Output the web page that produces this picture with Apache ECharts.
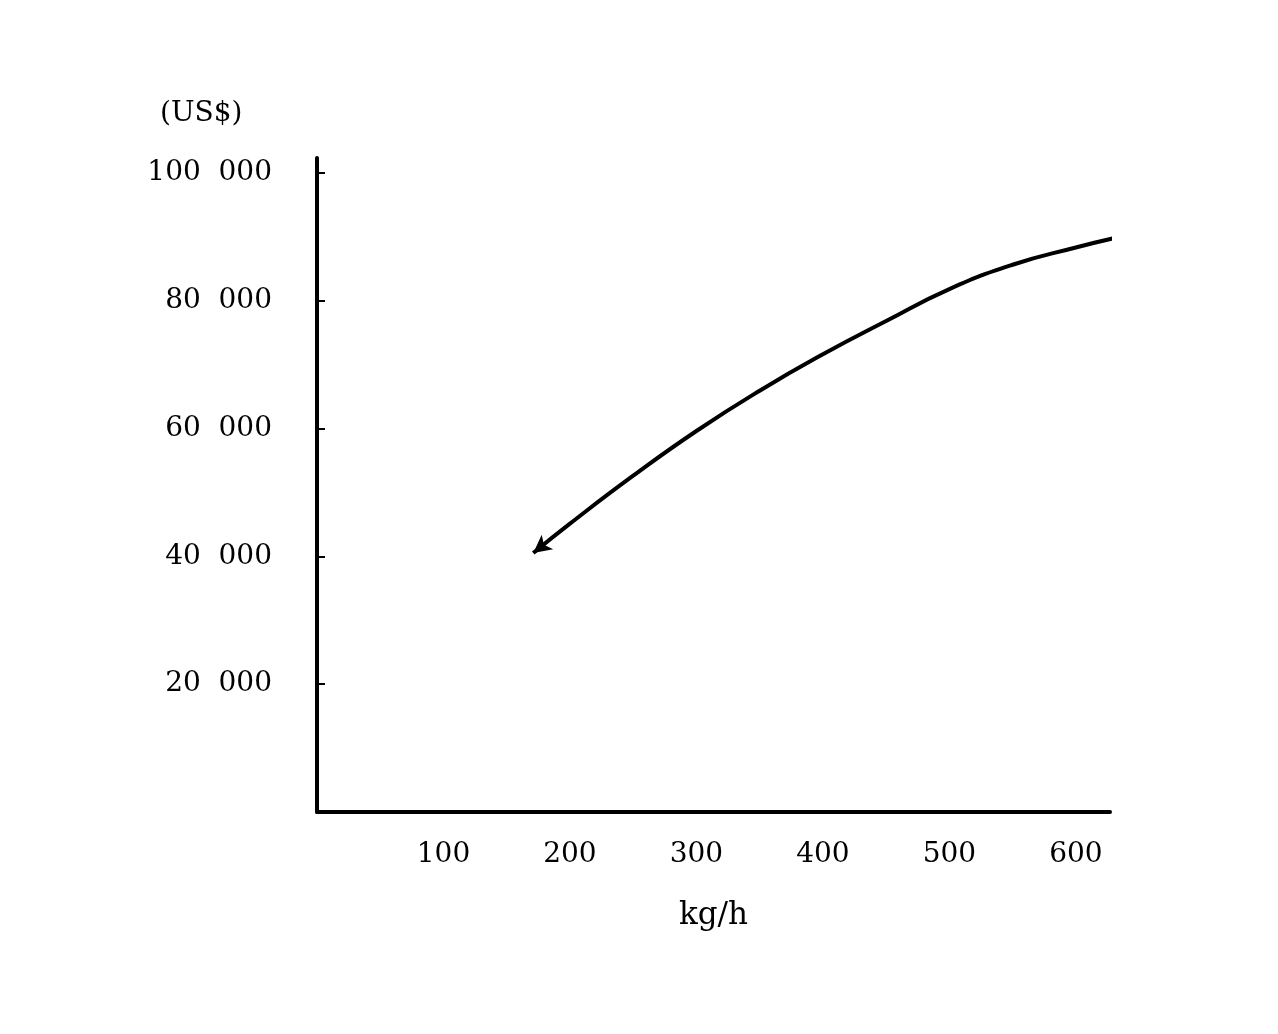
<!DOCTYPE html>
<html>
<head>
<meta charset="utf-8">
<script src="https://cdn.jsdelivr.net/npm/echarts@6/dist/echarts.min.js"></script>
<style>
html,body{margin:0;padding:0;background:#fff;}
#chart{width:1278px;height:1034px;}
</style>
</head>
<body>
<div id="chart"></div>
<script>
// Data (capacity kg/h vs cost US$)
var capacity = [171, 200, 250, 300, 350, 400, 450, 500, 550, 600, 629];
var cost = [40500, 45100, 52600, 59600, 65900, 71600, 76800, 81800, 85600, 88300, 89700];
var xTicks = [100, 200, 300, 400, 500, 600];
var yTicks = [20000, 40000, 60000, 80000, 100000];
var yUnit = '(US$)';
var xUnit = 'kg/h';

var font = '"DejaVu Serif", "Liberation Serif", serif';
var seriesData = capacity.map(function (c, i) {
  var item = { value: [c, cost[i]] };
  if (i === 0) {
    item.symbol = 'arrow';
    item.symbolSize = [14, 18];
    item.symbolRotate = 128;
  }
  return item;
});

var chart = echarts.init(document.getElementById('chart'));
chart.setOption({
  animation: false,
  backgroundColor: '#fff',
  title: {
    text: yUnit,
    left: 155, top: 95,
    textStyle: { fontFamily: font, fontSize: 28, fontWeight: 'normal', color: '#000' }
  },
  grid: { left: 317, right: 168, top: 158, bottom: 222 },
  xAxis: {
    type: 'value', min: 0, max: 627, interval: 100,
    name: xUnit, nameLocation: 'middle', nameGap: 88,
    nameTextStyle: { fontFamily: font, fontSize: 31, color: '#000' },
    axisLine: { lineStyle: { color: '#000', width: 4 } },
    axisTick: { show: false },
    splitLine: { show: false },
    axisLabel: {
      showMaxLabel: false, margin: 29,
      fontFamily: font, fontSize: 28, color: '#000',
      formatter: function (v) { return xTicks.indexOf(v) >= 0 ? String(v) : ''; }
    }
  },
  yAxis: {
    type: 'value', min: 0, max: 102300, interval: 20000,
    axisLine: { show: true, lineStyle: { color: '#000', width: 4 } },
    axisTick: { show: true, inside: true, length: 8, lineStyle: { color: '#000', width: 2 } },
    splitLine: { show: false },
    axisLabel: {
      showMaxLabel: false, margin: 45,
      fontFamily: font, fontSize: 28, color: '#000',
      formatter: function (v) {
        if (yTicks.indexOf(v) < 0) return '';
        var s = String(v);
        return s.slice(0, s.length - 3) + '  ' + s.slice(s.length - 3);
      }
    }
  },
  series: [{
    type: 'line',
    data: seriesData,
    smooth: 0.5,
    symbol: 'none',
    showSymbol: true,
    lineStyle: { color: '#000', width: 4 },
    itemStyle: { color: '#000' }
  }]
});
</script>
</body>
</html>
